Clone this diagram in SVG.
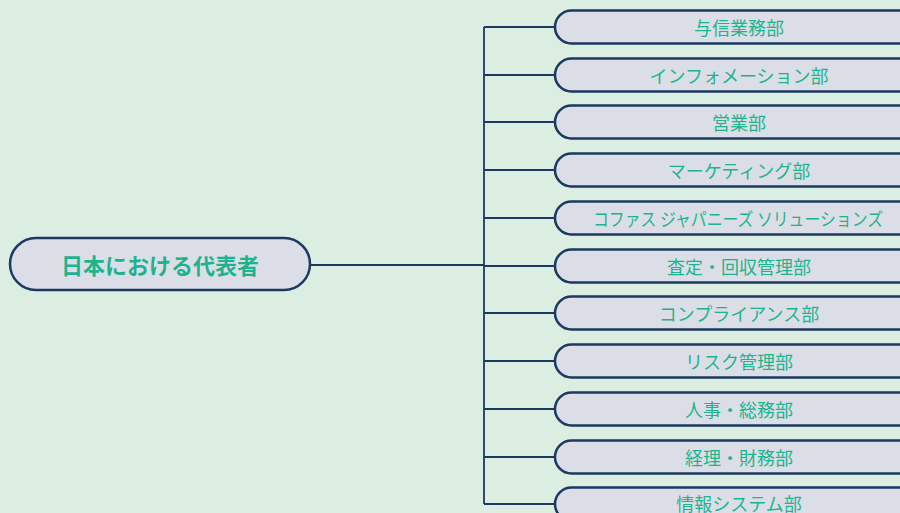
<svg xmlns="http://www.w3.org/2000/svg" width="900" height="513" viewBox="0 0 900 513">
<style>
.bg{fill:#dcede1}
.node{fill:#dcdee7;stroke:#1b3a62;stroke-width:2.5}
.lbl{font-family:"Noto Sans CJK JP","Noto Sans",sans-serif;font-size:18px;fill:#1bb48e;text-anchor:middle;dominant-baseline:central}
.root{font-size:22px;font-weight:bold}
.conn{stroke:#1b3a62;stroke-width:1.8;fill:none}
</style>
<rect class="bg" x="0" y="0" width="900" height="513"/>
<g id="connectors">
<path class="conn" d="M310 265H484M484 27V504"/>
<path class="conn" d="M484 27H556M484 75H556M484 122H556M484 170H556M484 218H556M484 266H556M484 313H556M484 361H556M484 409H556M484 457H556M484 504H556"/>
</g>
<g id="root">
<rect class="node" x="10" y="238" width="300" height="52" rx="26"/>
<text class="lbl root" x="160" y="264">日本における代表者</text>
</g>
<g id="n1"><rect class="node" x="555" y="10.5" width="370" height="33" rx="16.5"/><text class="lbl" x="739" y="27">与信業務部</text></g>
<g id="n2"><rect class="node" x="555" y="58.5" width="370" height="33" rx="16.5"/><text class="lbl" x="739" y="75">インフォメーション部</text></g>
<g id="n3"><rect class="node" x="555" y="105.5" width="370" height="33" rx="16.5"/><text class="lbl" x="739" y="122">営業部</text></g>
<g id="n4"><rect class="node" x="555" y="153.5" width="370" height="33" rx="16.5"/><text class="lbl" x="739" y="170">マーケティング部</text></g>
<g id="n5"><rect class="node" x="555" y="201.5" width="370" height="33" rx="16.5"/><text class="lbl" x="738" y="218" font-size="17" textLength="290" lengthAdjust="spacingAndGlyphs">コファス ジャパニーズ ソリューションズ</text></g>
<g id="n6"><rect class="node" x="555" y="249.5" width="370" height="33" rx="16.5"/><text class="lbl" x="739" y="266">査定・回収管理部</text></g>
<g id="n7"><rect class="node" x="555" y="296.5" width="370" height="33" rx="16.5"/><text class="lbl" x="739" y="313">コンプライアンス部</text></g>
<g id="n8"><rect class="node" x="555" y="344.5" width="370" height="33" rx="16.5"/><text class="lbl" x="739" y="361">リスク管理部</text></g>
<g id="n9"><rect class="node" x="555" y="392.5" width="370" height="33" rx="16.5"/><text class="lbl" x="739" y="409">人事・総務部</text></g>
<g id="n10"><rect class="node" x="555" y="440.5" width="370" height="33" rx="16.5"/><text class="lbl" x="739" y="457">経理・財務部</text></g>
<g id="n11"><rect class="node" x="555" y="487.5" width="370" height="33" rx="16.5"/><text class="lbl" x="739" y="503">情報システム部</text></g>
</svg>
